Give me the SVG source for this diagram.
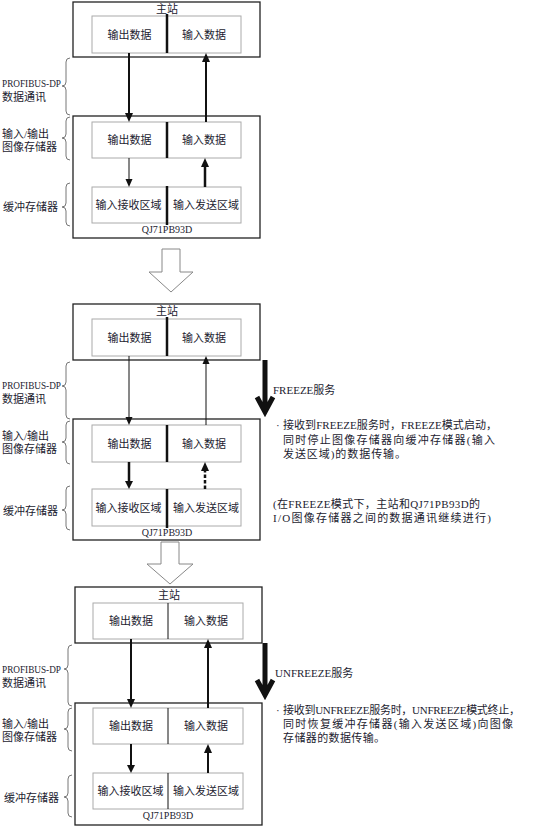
<svg xmlns="http://www.w3.org/2000/svg" width="534" height="829" viewBox="0 0 534 829">
<style>
text{font-family:"Liberation Serif","Noto Sans CJK SC",serif;font-size:11px;fill:#1c1c30}
.c{text-anchor:middle}
.lat{font-size:10px}
.outer{fill:#fff;stroke:#222;stroke-width:1.3}
.inner{fill:#fff;stroke:#aaa;stroke-width:1}
.divk{stroke:#111;stroke-width:2.5}
.divt{stroke:#111;stroke-width:1}
.brace{fill:none;stroke:#777;stroke-width:1}
.ah{fill:#111}
.hollow{fill:#fff;stroke:#888;stroke-width:1}
.big{fill:none;stroke:#111;stroke-width:5}
</style>

<!-- ===== Panel 1 ===== -->
<g id="p1" transform="translate(0,0)">
  <g id="p1-master">
    <rect class="outer" x="73" y="2" width="187" height="55"/>
    <text class="c" x="167" y="12.5">主站</text>
    <rect class="inner" x="92" y="16" width="149" height="37"/>
    <line class="divk" x1="167" y1="14" x2="167" y2="53"/>
    <text class="c" x="129.5" y="38.5">输出数据</text>
    <text class="c" x="204" y="38.5">输入数据</text>
  </g>
  <g id="p1-module">
    <rect class="outer" x="73" y="116" width="187" height="122"/>
    <rect class="inner" x="92" y="122" width="149" height="36"/>
    <line class="divk" x1="167" y1="122" x2="167" y2="158"/>
    <text class="c" x="129.5" y="144">输出数据</text>
    <text class="c" x="204" y="144">输入数据</text>
    <rect class="inner" x="92" y="187" width="149" height="36"/>
    <line class="divk" x1="167" y1="186" x2="167" y2="225"/>
    <text class="c" x="128.5" y="209">输入接收区域</text>
    <text class="c" x="206" y="209">输入发送区域</text>
    <text class="c lat" x="167" y="233">QJ71PB93D</text>
  </g>
  <g id="p1-labels">
    <path class="brace" d="M70,58 Q66,58 66,62 L66,82 Q66,86 62,86 Q66,86 66,90 L66,111 Q66,115 70,115"/>
    <path class="brace" d="M70,117 Q66,117 66,121 L66,134 Q66,138 62,138 Q66,138 66,142 L66,156 Q66,160 70,160"/>
    <path class="brace" d="M70,183 Q66,183 66,187 L66,203 Q66,207 62,207 Q66,207 66,211 L66,222 Q66,226 70,226"/>
    <text class="lat" x="2" y="87" textLength="59" lengthAdjust="spacingAndGlyphs">PROFIBUS-DP</text>
    <text x="2" y="101">数据通讯</text>
    <text x="2" y="138">输入/输出</text>
    <text x="2" y="151">图像存储器</text>
    <text x="3" y="211">缓冲存储器</text>
  </g>
  <g id="p1-connectors">
    <line x1="129" y1="53" x2="129" y2="114" stroke="#111" stroke-width="2"/>
    <polygon class="ah" points="125,113 133,113 129,122"/>
    <line x1="206" y1="122" x2="206" y2="61" stroke="#111" stroke-width="2"/>
    <polygon class="ah" points="202,62 210,62 206,53"/>
    <line x1="129" y1="158" x2="129" y2="180" stroke="#111" stroke-width="1"/>
    <polygon class="ah" points="125.5,179 132.5,179 129,187"/>
    <line x1="205" y1="187" x2="205" y2="166" stroke="#111" stroke-width="2.5"/>
    <polygon class="ah" points="201,167 209,167 205,158"/>
  </g>
</g>

<!-- hollow arrow 1 -->
<g id="transition-1">
  <path class="hollow" d="M162,249 L180,249 L180,272 L193,272 L171,292 L149,272 L162,272 Z"/>
</g>

<!-- ===== Panel 2 ===== -->
<g id="p2" transform="translate(0,302)">
  <g id="p2-master">
    <rect class="outer" x="73" y="2" width="187" height="56"/>
    <text class="c" x="167" y="12.5">主站</text>
    <rect class="inner" x="92" y="17" width="149" height="37"/>
    <line class="divk" x1="167" y1="15" x2="167" y2="54"/>
    <text class="c" x="129.5" y="39.5">输出数据</text>
    <text class="c" x="204" y="39.5">输入数据</text>
  </g>
  <g id="p2-module">
    <rect class="outer" x="73" y="117" width="187" height="121"/>
    <rect class="inner" x="92" y="123" width="149" height="37"/>
    <line class="divk" x1="167" y1="123" x2="167" y2="160"/>
    <text class="c" x="129.5" y="146">输出数据</text>
    <text class="c" x="204" y="146">输入数据</text>
    <rect class="inner" x="92" y="187" width="149" height="37"/>
    <line class="divk" x1="167" y1="187" x2="167" y2="226"/>
    <text class="c" x="128.5" y="210">输入接收区域</text>
    <text class="c" x="206" y="210">输入发送区域</text>
    <text class="c lat" x="167" y="234">QJ71PB93D</text>
  </g>
  <g id="p2-labels">
    <path class="brace" d="M70,60 Q66,60 66,64 L66,80 Q66,84 62,84 Q66,84 66,88 L66,113 Q66,117 70,117"/>
    <path class="brace" d="M70,119 Q66,119 66,123 L66,136 Q66,140 62,140 Q66,140 66,144 L66,158 Q66,162 70,162"/>
    <path class="brace" d="M70,184 Q66,184 66,188 L66,204 Q66,208 62,208 Q66,208 66,212 L66,224 Q66,228 70,228"/>
    <text class="lat" x="2" y="87" textLength="59" lengthAdjust="spacingAndGlyphs">PROFIBUS-DP</text>
    <text x="2" y="101">数据通讯</text>
    <text x="2" y="138">输入/输出</text>
    <text x="2" y="151">图像存储器</text>
    <text x="3" y="213">缓冲存储器</text>
  </g>
  <g id="p2-connectors">
    <line x1="129" y1="54" x2="129" y2="116" stroke="#111" stroke-width="1"/>
    <polygon class="ah" points="125.5,115 132.5,115 129,123"/>
    <line x1="206" y1="123" x2="206" y2="61" stroke="#111" stroke-width="1"/>
    <polygon class="ah" points="202.5,62 209.5,62 206,54"/>
    <line x1="129" y1="160" x2="129" y2="180" stroke="#111" stroke-width="2.5"/>
    <polygon class="ah" points="125,179 133,179 129,187"/>
    <line x1="205" y1="187" x2="205" y2="168" stroke="#111" stroke-width="2.5" stroke-dasharray="3.5,2"/>
    <polygon class="ah" points="201,169 209,169 205,160"/>
  </g>
</g>

<!-- FREEZE annotation -->
<g id="freeze">
  <path class="big" d="M265,360 L265,412 M257,397 L265,412 L273,397" stroke-linejoin="miter"/>
  <text x="273" y="394">FREEZE服务</text>
  <text x="276" y="429">·</text>
  <text x="283" y="429" textLength="214" lengthAdjust="spacing">接收到FREEZE服务时，FREEZE模式启动，</text>
  <text x="283" y="444" textLength="212" lengthAdjust="spacing">同时停止图像存储器向缓冲存储器(输入</text>
  <text x="283" y="458" textLength="123" lengthAdjust="spacing">发送区域)的数据传输。</text>
  <text x="273" y="508" textLength="207" lengthAdjust="spacing">(在FREEZE模式下，主站和QJ71PB93D的</text>
  <text x="273" y="522" textLength="218" lengthAdjust="spacing">I/O图像存储器之间的数据通讯继续进行)</text>
</g>

<!-- hollow arrow 2 -->
<g id="transition-2">
  <path class="hollow" d="M161,542 L179,542 L179,564 L193,564 L170,584 L147,564 L161,564 Z"/>
</g>

<!-- ===== Panel 3 ===== -->
<g id="p3" transform="translate(2,585)">
  <g id="p3-master">
    <rect class="outer" x="73" y="2" width="187" height="56"/>
    <text class="c" x="167" y="14">主站</text>
    <rect class="inner" x="91" y="18" width="150" height="36"/>
    <line class="divt" x1="166" y1="18" x2="166" y2="54"/>
    <text class="c" x="129" y="40">输出数据</text>
    <text class="c" x="204" y="40">输入数据</text>
  </g>
  <g id="p3-module">
    <rect class="outer" x="73" y="118" width="187" height="122"/>
    <rect class="inner" x="91" y="123" width="150" height="36"/>
    <line class="divt" x1="166" y1="123" x2="166" y2="159"/>
    <text class="c" x="129" y="145">输出数据</text>
    <text class="c" x="204" y="145">输入数据</text>
    <rect class="inner" x="91" y="188" width="150" height="36"/>
    <line class="divt" x1="166" y1="188" x2="166" y2="224"/>
    <text class="c" x="128.5" y="210">输入接收区域</text>
    <text class="c" x="204" y="210">输入发送区域</text>
    <text class="c lat" x="166" y="234">QJ71PB93D</text>
  </g>
  <g id="p3-connectors">
    <line x1="129" y1="54" x2="129" y2="115" stroke="#111" stroke-width="2"/>
    <polygon class="ah" points="125,114 133,114 129,123"/>
    <line x1="206" y1="123" x2="206" y2="62" stroke="#111" stroke-width="2"/>
    <polygon class="ah" points="202,63 210,63 206,54"/>
    <line x1="129" y1="159" x2="129" y2="181" stroke="#111" stroke-width="2"/>
    <polygon class="ah" points="125,180 133,180 129,188"/>
    <line x1="206" y1="188" x2="206" y2="167" stroke="#111" stroke-width="2"/>
    <polygon class="ah" points="202,168 210,168 206,159"/>
  </g>
</g>
<g id="p3-labels" transform="translate(0,585)">
  <path class="brace" d="M72,60 Q68,60 68,64 L68,80 Q68,84 64,84 Q68,84 68,88 L68,117 Q68,121 72,121"/>
  <path class="brace" d="M72,123 Q68,123 68,127 L68,140 Q68,144 64,144 Q68,144 68,148 L68,162 Q68,166 72,166"/>
  <path class="brace" d="M72,190 Q68,190 68,194 L68,208 Q68,212 64,212 Q68,212 68,216 L68,228 Q68,232 72,232"/>
  <text class="lat" x="2" y="88" textLength="59" lengthAdjust="spacingAndGlyphs">PROFIBUS-DP</text>
  <text x="2" y="102">数据通讯</text>
  <text x="2" y="143">输入/输出</text>
  <text x="2" y="156">图像存储器</text>
  <text x="4" y="217">缓冲存储器</text>
</g>

<!-- UNFREEZE annotation -->
<g id="unfreeze">
  <path class="big" d="M265,643 L265,695 M257,680 L265,695 L273,680" stroke-linejoin="miter"/>
  <text x="275" y="677">UNFREEZE服务</text>
  <text x="276" y="714">·</text>
  <text x="283" y="714" textLength="237" lengthAdjust="spacing">接收到UNFREEZE服务时，UNFREEZE模式终止，</text>
  <text x="283" y="728" textLength="230" lengthAdjust="spacing">同时恢复缓冲存储器(输入发送区域)向图像</text>
  <text x="283" y="742" textLength="102" lengthAdjust="spacing">存储器的数据传输。</text>
</g>
</svg>
